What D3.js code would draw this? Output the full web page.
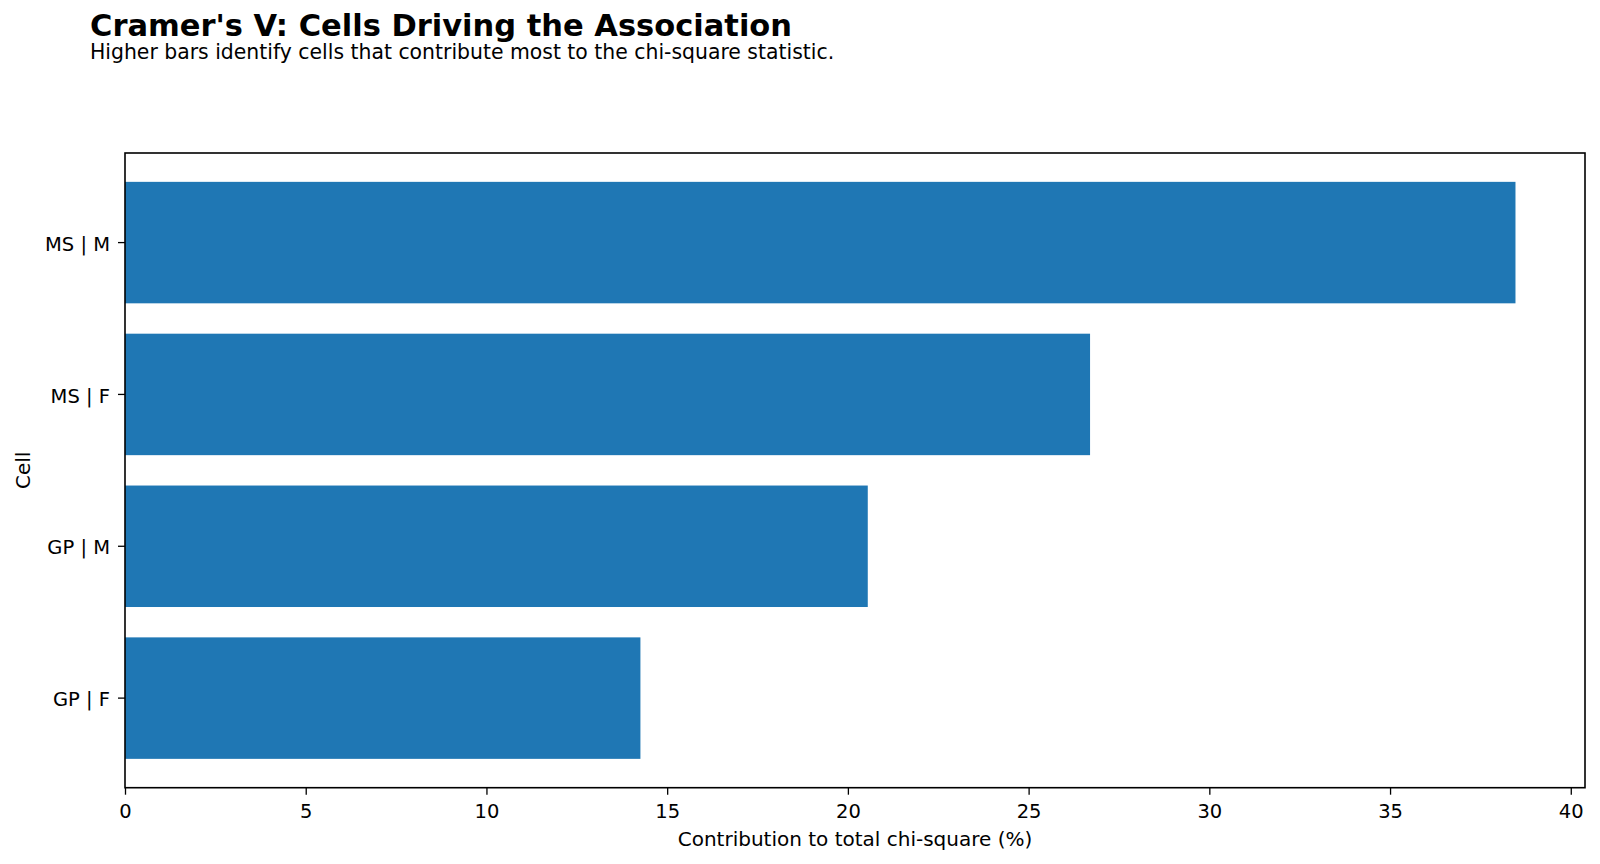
<!DOCTYPE html>
<html>

<head>
	<meta charset="utf-8">
	<title>Cramer's V</title>
	<script src="https://d3js.org/d3.v7.min.js"></script>
	<style>
		body {
			margin: 0;
			padding: 0;
			background: white;
			overflow: hidden;
		}

		text {
			font-family: "DejaVu Sans", sans-serif;
			fill: black;
		}
	</style>
</head>

<body>
	<script>
		// data, top to bottom
		var cells = ["MS | M", "MS | F", "GP | M", "GP | F"];
		var contribution = [38.47, 26.70, 20.55, 14.26];
		var xTicks = [0, 5, 10, 15, 20, 25, 30, 35, 40];

		var width = 1600,
			height = 864;
		// plot box (note: "top" is taken by window.top)
		var pLeft = 125,
			pRight = 1585,
			pTop = 153,
			pBottom = 787.7;

		var svg = d3.select("body").append("svg")
			.attr("width", width)
			.attr("height", height);

		var rows = cells.map((c, i) => ({ cell: c, value: contribution[i] }));

		var x = d3.scaleLinear()
			.domain([0, d3.max(contribution) * 1.05])
			.range([pLeft, pRight]);

		var y = d3.scaleBand()
			.domain(cells)
			.range([pTop, pBottom])
			.paddingInner(0.2)
			.paddingOuter(0.19);

		// bars
		svg.append("g").selectAll("rect")
			.data(rows)
			.enter().append("rect")
			.attr("x", x(0))
			.attr("y", (d) => y(d.cell))
			.attr("width", (d) => x(d.value) - x(0))
			.attr("height", y.bandwidth())
			.style("fill", "#1f77b4");

		// axes
		var xAxis = svg.append("g")
			.attr("transform", "translate(0," + pBottom + ")")
			.call(d3.axisBottom(x).tickValues(xTicks).tickSize(7).tickPadding(9.5).tickFormat(d3.format("d")));
		var yAxis = svg.append("g")
			.attr("transform", "translate(" + pLeft + ",0)")
			.call(d3.axisLeft(y).tickSize(7).tickPadding(8));

		[xAxis, yAxis].forEach((a) => {
			a.select(".domain").remove();
			a.selectAll("line").style("stroke", "black").style("stroke-width", 1.3);
			a.selectAll("text")
				.style("font-family", "DejaVu Sans, sans-serif")
				.style("font-size", "19.5px")
				.style("fill", "black");
		});
		yAxis.selectAll("text").attr("dy", "0.42em");

		// frame
		svg.append("rect")
			.attr("x", pLeft)
			.attr("y", pTop)
			.attr("width", pRight - pLeft)
			.attr("height", pBottom - pTop)
			.style("fill", "none")
			.style("stroke", "black")
			.style("stroke-width", 1.6);

		// labels
		svg.append("text")
			.attr("x", (pLeft + pRight) / 2)
			.attr("y", 846)
			.attr("text-anchor", "middle")
			.style("font-size", "20px")
			.text("Contribution to total chi-square (%)");

		svg.append("text")
			.attr("transform", "translate(30," + (pTop + pBottom) / 2 + ") rotate(-90)")
			.attr("text-anchor", "middle")
			.style("font-size", "20px")
			.text("Cell");

		svg.append("text")
			.attr("x", 90)
			.attr("y", 36)
			.style("font-size", "30.5px")
			.style("font-weight", "bold")
			.text("Cramer's V: Cells Driving the Association");

		svg.append("text")
			.attr("x", 90)
			.attr("y", 59)
			.style("font-size", "20.4px")
			.text("Higher bars identify cells that contribute most to the chi-square statistic.");
	</script>
</body>

</html>
